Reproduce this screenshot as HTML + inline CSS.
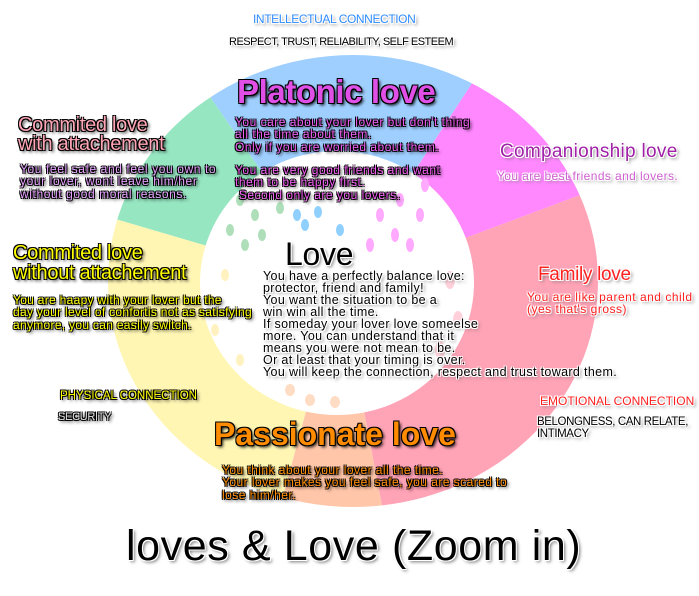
<!DOCTYPE html>
<html><head><meta charset="utf-8"><style>
body{margin:0;width:699px;height:596px;background:#fff;position:relative;overflow:hidden;font-family:"Liberation Sans",sans-serif}
.t{position:absolute;white-space:nowrap;letter-spacing:-0.3px}
.bo{text-shadow:1px 1px 0 #000,-1px -1px 0 #000,1px -1px 0 #000,-1px 1px 0 #000,2px 2px 3px #000}
.wo{text-shadow:1px 1px 0 #fff,-1px -1px 0 #fff,1px -1px 0 #fff,-1px 1px 0 #fff,2px 2px 3px #777}
.s{font-size:12px;line-height:12.3px;letter-spacing:0.5px}
</style></head><body>
<svg width="699" height="596" style="position:absolute;left:0;top:0">
<defs><clipPath id="c"><ellipse cx="353" cy="281" rx="245" ry="226"/></clipPath></defs>
<g clip-path="url(#c)">
<polygon points="340,285 150,10 520,10" fill="#9fcfff"/>
<polygon points="340,285 520,10 700,150" fill="#ff88ff"/>
<polygon points="340,285 700,150 700,600 400,600" fill="#ffa3b6"/>
<polygon points="340,285 400,600 255,600" fill="#ffc6a9"/>
<polygon points="340,285 255,600 0,600 0,185" fill="#fff6b4"/>
<polygon points="340,285 0,185 0,0 150,10" fill="#96e6c2"/>
</g>
<ellipse cx="337" cy="283" rx="137" ry="132" fill="#fff"/>
<g fill="#9ad8a8" opacity=".8">
<ellipse cx="240" cy="200" rx="4" ry="6"/><ellipse cx="255" cy="215" rx="4" ry="6"/><ellipse cx="230" cy="230" rx="4" ry="6"/><ellipse cx="262" cy="235" rx="4" ry="6"/><ellipse cx="280" cy="208" rx="4" ry="6"/><ellipse cx="245" cy="245" rx="4" ry="6"/></g>
<g fill="#8fd0ff"><ellipse cx="297" cy="215" rx="4" ry="6"/><ellipse cx="318" cy="212" rx="4" ry="6"/><ellipse cx="340" cy="230" rx="4" ry="6"/><ellipse cx="305" cy="225" rx="4" ry="6"/></g>
<g fill="#ffaaff"><ellipse cx="380" cy="215" rx="4" ry="7"/><ellipse cx="400" cy="200" rx="4" ry="7"/><ellipse cx="420" cy="215" rx="4" ry="7"/><ellipse cx="395" cy="235" rx="4" ry="7"/><ellipse cx="425" cy="185" rx="4" ry="7"/><ellipse cx="410" cy="245" rx="4" ry="7"/><ellipse cx="370" cy="245" rx="4" ry="7"/></g>
<g fill="#ffd0da"><ellipse cx="450" cy="280" rx="5" ry="9"/><ellipse cx="458" cy="320" rx="5" ry="9"/><ellipse cx="440" cy="350" rx="5" ry="9"/></g>
<g fill="#fff2c0"><ellipse cx="210" cy="300" rx="4" ry="6"/><ellipse cx="215" cy="330" rx="4" ry="6"/><ellipse cx="240" cy="360" rx="4" ry="6"/><ellipse cx="225" cy="275" rx="4" ry="6"/></g>
<g fill="#ffdcc4"><ellipse cx="310" cy="400" rx="5" ry="6"/><ellipse cx="335" cy="402" rx="5" ry="6"/><ellipse cx="290" cy="390" rx="5" ry="6"/></g>
</svg>

<div class="t wo" style="left:253px;top:12px;font-size:12px;color:#2f8cff;letter-spacing:-0.4px">INTELLECTUAL CONNECTION</div>
<div class="t wo" style="left:229px;top:36px;font-size:11px;color:#000;letter-spacing:-0.5px">RESPECT, TRUST, RELIABILITY, SELF ESTEEM</div>

<div class="t bo" style="left:237px;top:73px;font-size:33px;font-weight:bold;color:#e050e6;letter-spacing:-0.4px">Platonic love</div>
<div class="t bo s" style="left:235px;top:116px;color:#f05af0">You care about your lover but don't thing<br>all the time about them.<br>Only if you are worried about them.</div>
<div class="t bo s" style="left:235px;top:164px;color:#f05af0">You are very good friends and want<br>them to be happy first.<br>&nbsp;Second only are you lovers.</div>

<div class="t bo" style="left:18px;top:116px;font-size:20px;line-height:19px;color:#ffa5b5">Commited love<br>with attachement</div>
<div class="t bo s" style="left:20px;top:163px;color:#e6a0ff;letter-spacing:0.6px">You feel safe and feel you own to<br>your lover, wont leave him/her<br>without good moral reasons.</div>

<div class="t bo" style="left:13px;top:243px;font-size:20px;line-height:20px;color:#ffff00">Commited love<br>without attachement</div>
<div class="t bo s" style="left:13px;top:294px;color:#ffff00;letter-spacing:0.3px">You are haapy with your lover but the<br>day your level of confortis not as satisfying<br>anymore, you can easily switch.</div>

<div class="t wo" style="left:500px;top:141px;font-size:19px;color:#a020a8;letter-spacing:0.3px">Companionship love</div>
<div class="t wo" style="left:497px;top:169px;font-size:12px;color:#d060d0;letter-spacing:0.4px">You are best friends and lovers.</div>

<div class="t wo" style="left:538px;top:264px;font-size:19px;color:#ff2020">Family love</div>
<div class="t wo s" style="left:527px;top:291px;color:#ff2020;letter-spacing:0.5px">You are like parent and child<br>(yes that's gross)</div>

<div class="t wo" style="left:285px;top:236px;font-size:32px;color:#000">Love</div>
<div class="t wo" style="left:263px;top:270px;font-size:12.5px;line-height:12px;color:#000;letter-spacing:0.35px">You have a perfectly balance love:<br>protector, friend and family!<br>You want the situation to be a<br>win win all the time.<br>If someday your lover love someelse<br>more. You can understand that it<br>means you were not mean to be.<br>Or at least that your timing is over.<br>You will keep the connection, respect and trust toward them.</div>

<div class="t bo" style="left:60px;top:390px;font-size:11.5px;color:#ffff00;letter-spacing:0px">PHYSICAL CONNECTION</div>
<div class="t bo" style="left:58px;top:411px;font-size:11px;color:#ddd;letter-spacing:-0.3px">SECURITY</div>

<div class="t wo" style="left:540px;top:394px;font-size:12px;color:#ff2020;letter-spacing:0px">EMOTIONAL CONNECTION</div>
<div class="t wo" style="left:537px;top:416px;font-size:11.5px;line-height:12px;color:#000;letter-spacing:-0.4px">BELONGNESS, CAN RELATE,<br>INTIMACY</div>

<div class="t bo" style="left:214px;top:416px;font-size:32px;font-weight:bold;color:#ff8c00;letter-spacing:0px">Passionate love</div>
<div class="t bo s" style="left:222px;top:464px;color:#ff8c00;letter-spacing:0.45px">You think about your lover all the time.<br>Your lover makes you feel safe, you are scared to<br>lose him/her.</div>

<div class="t wo" style="left:126px;top:522px;font-size:43px;color:#000;letter-spacing:0.6px">loves &amp; Love (Zoom in)</div>
</body></html>
